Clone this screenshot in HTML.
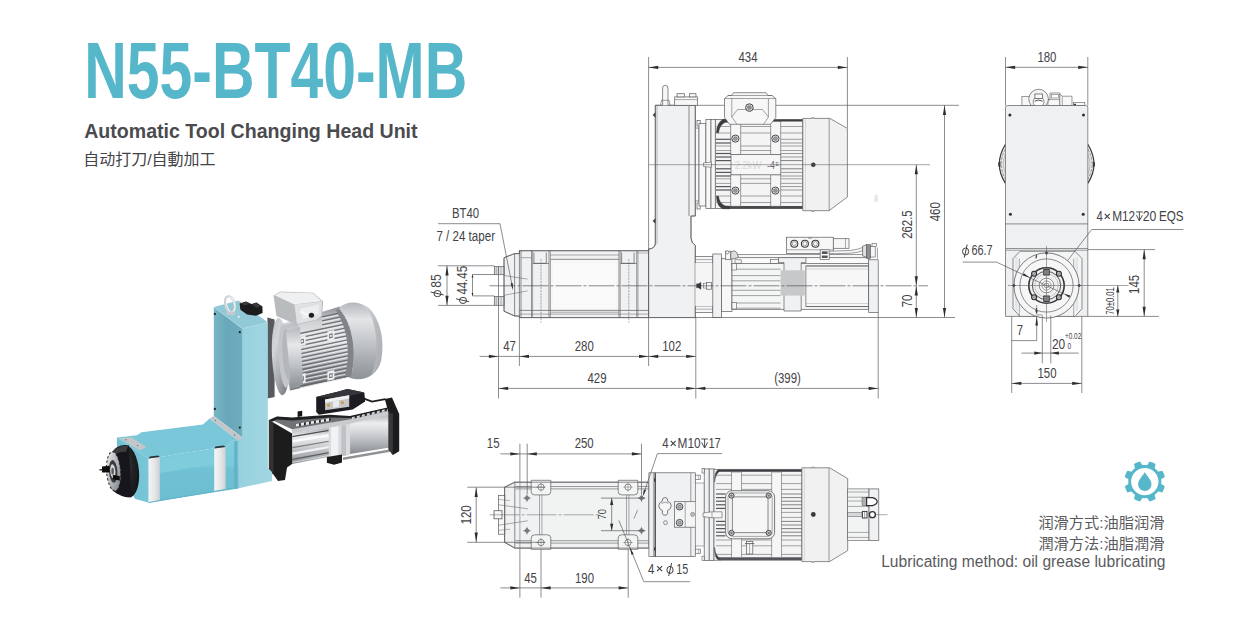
<!DOCTYPE html>
<html lang="en"><head><meta charset="utf-8"><title>N55-BT40-MB Automatic Tool Changing Head Unit</title><style>
html,body{margin:0;padding:0;background:#fff;}
body{width:1240px;height:617px;position:relative;overflow:hidden;font-family:"Liberation Sans",sans-serif;}
svg{position:absolute;left:0;top:0;}
svg text{font-family:"Liberation Sans",sans-serif;}
svg text.cjk{font-family:"Liberation Sans","Noto Sans CJK SC",sans-serif;}
</style></head>
<body>

<svg width="1240" height="617" viewBox="0 0 1240 617">
<text id="title" x="84.2" y="97.9" font-size="79.5" font-weight="700" fill="#55b7c9" textLength="383" lengthAdjust="spacingAndGlyphs">N55-BT40-MB</text>
<text id="sub" x="84.2" y="137.8" font-size="20" font-weight="700" fill="#4b4b4f" textLength="333.4" lengthAdjust="spacingAndGlyphs">Automatic Tool Changing Head Unit</text>
<text id="lub" x="881.2" y="566.6" font-size="15.6" fill="#5a5a5e" textLength="284.3" lengthAdjust="spacingAndGlyphs">Lubricating method: oil grease lubricating</text>
<defs>
<linearGradient id="gColR" x1="0" y1="0" x2="1" y2="0"><stop offset="0" stop-color="#97d1de"/><stop offset="1" stop-color="#a1d6e2"/></linearGradient>
<linearGradient id="gColL" x1="0" y1="0" x2="1" y2="0"><stop offset="0" stop-color="#78b6c6"/><stop offset="0.45" stop-color="#69a8ba"/><stop offset="1" stop-color="#6dacbd"/></linearGradient>
<linearGradient id="gBoxS" x1="0" y1="0" x2="0" y2="1"><stop offset="0" stop-color="#80cddd"/><stop offset="0.4" stop-color="#7ac9da"/><stop offset="0.46" stop-color="#70c1d3"/><stop offset="1" stop-color="#6bbdd0"/></linearGradient>
<linearGradient id="gBoxF" x1="0" y1="0" x2="1" y2="0"><stop offset="0" stop-color="#6fc0d2"/><stop offset="1" stop-color="#78c6d7"/></linearGradient>
<linearGradient id="gClamp" x1="0" y1="0" x2="1" y2="0"><stop offset="0" stop-color="#f4f5f6"/><stop offset="0.55" stop-color="#e4e6e8"/><stop offset="1" stop-color="#cfd2d5"/></linearGradient>
<linearGradient id="gMotor" x1="0" y1="0" x2="0" y2="1"><stop offset="0" stop-color="#8b8e92"/><stop offset="0.18" stop-color="#cfd1d4"/><stop offset="0.4" stop-color="#e6e8ea"/><stop offset="0.65" stop-color="#b4b7bb"/><stop offset="0.88" stop-color="#85888c"/><stop offset="1" stop-color="#6c6f73"/></linearGradient>
<linearGradient id="gMotorS" x1="0" y1="0" x2="0" y2="1"><stop offset="0" stop-color="#b5b8bc"/><stop offset="0.3" stop-color="#e6e8ea"/><stop offset="0.6" stop-color="#c4c7ca"/><stop offset="1" stop-color="#8d9094"/></linearGradient>
<linearGradient id="gFan" x1="0" y1="0" x2="0" y2="1"><stop offset="0" stop-color="#b4b7bb"/><stop offset="0.22" stop-color="#e3e5e7"/><stop offset="0.5" stop-color="#c5c8cb"/><stop offset="0.8" stop-color="#a2a5a9"/><stop offset="1" stop-color="#8f9296"/></linearGradient>
<linearGradient id="gFanFace" x1="0" y1="0" x2="1" y2="1"><stop offset="0" stop-color="#d6d8da"/><stop offset="0.5" stop-color="#b9bcbf"/><stop offset="1" stop-color="#a9acb0"/></linearGradient>
<linearGradient id="gFlange" x1="0" y1="0" x2="0.6" y2="1"><stop offset="0" stop-color="#b9bcc0"/><stop offset="0.35" stop-color="#d3d5d8"/><stop offset="0.7" stop-color="#a9acb0"/><stop offset="1" stop-color="#7f8286"/></linearGradient>
<linearGradient id="gTBox" x1="0" y1="0" x2="1" y2="1"><stop offset="0" stop-color="#e9ebec"/><stop offset="1" stop-color="#b7babd"/></linearGradient>
<linearGradient id="gCyl" x1="0" y1="0" x2="0" y2="1"><stop offset="0" stop-color="#a9acb0"/><stop offset="0.25" stop-color="#eceeef"/><stop offset="0.5" stop-color="#d0d2d5"/><stop offset="0.8" stop-color="#a7aaae"/><stop offset="1" stop-color="#85888c"/></linearGradient>
<linearGradient id="gRod" x1="0" y1="0" x2="0" y2="1"><stop offset="0" stop-color="#b8bbbe"/><stop offset="0.4" stop-color="#f3f4f5"/><stop offset="1" stop-color="#9da0a4"/></linearGradient>
<radialGradient id="gNose" cx="0.35" cy="0.35" r="0.8"><stop offset="0" stop-color="#4a4b4e"/><stop offset="0.5" stop-color="#232426"/><stop offset="1" stop-color="#101113"/></radialGradient>
<linearGradient id="gFace" x1="0" y1="0" x2="1" y2="1"><stop offset="0" stop-color="#f0f1f2"/><stop offset="0.5" stop-color="#b5b8bb"/><stop offset="1" stop-color="#7b7e82"/></linearGradient>
<filter id="pblur" x="-5%" y="-5%" width="110%" height="110%"><feGaussianBlur stdDeviation="0.45"/></filter>
</defs><g filter="url(#pblur)"><path d="M267.4 317.5L274.6 319.5L274.6 397L267.4 398.6Z" fill="#565a5f"/><ellipse cx="280.6" cy="356.6" rx="8.6" ry="38.6" fill="url(#gFlange)" transform="rotate(-3 280.6 356.6)"/><path d="M283 323.5L340 306.5L352.6 376L290 390.5Z" fill="url(#gMotor)"/><path d="M283 326L298 321.6L303 386L290 389.5Z" fill="url(#gMotorS)"/><path d="M322 316.8L351 310.7" stroke="#5e6165" stroke-width="1.35" opacity="0.85"/><path d="M322 318.5L351 312.4" stroke="#f0f1f2" stroke-width="1" opacity="0.85"/><path d="M322 320.8L351 314.8" stroke="#5e6165" stroke-width="1.35" opacity="0.85"/><path d="M322 322.6L351 316.4" stroke="#f0f1f2" stroke-width="1" opacity="0.85"/><path d="M322 324.9L351 318.8" stroke="#5e6165" stroke-width="1.35" opacity="0.85"/><path d="M322 326.6L351 320.5" stroke="#f0f1f2" stroke-width="1" opacity="0.85"/><path d="M300 333.5L351 322.8" stroke="#5e6165" stroke-width="1.35" opacity="0.85"/><path d="M300 335.2L351 324.5" stroke="#f0f1f2" stroke-width="1" opacity="0.85"/><path d="M300 337.6L351 326.9" stroke="#5e6165" stroke-width="1.35" opacity="0.85"/><path d="M300 339.3L351 328.6" stroke="#f0f1f2" stroke-width="1" opacity="0.85"/><path d="M300 341.6L351 330.9" stroke="#5e6165" stroke-width="1.35" opacity="0.85"/><path d="M300 343.3L351 332.6" stroke="#f0f1f2" stroke-width="1" opacity="0.85"/><path d="M300 345.7L351 335.0" stroke="#5e6165" stroke-width="1.35" opacity="0.85"/><path d="M300 347.4L351 336.7" stroke="#f0f1f2" stroke-width="1" opacity="0.85"/><path d="M300 349.8L351 339.1" stroke="#5e6165" stroke-width="1.35" opacity="0.85"/><path d="M300 351.4L351 340.8" stroke="#f0f1f2" stroke-width="1" opacity="0.85"/><path d="M300 353.8L351 343.1" stroke="#5e6165" stroke-width="1.35" opacity="0.85"/><path d="M300 355.5L351 344.8" stroke="#f0f1f2" stroke-width="1" opacity="0.85"/><path d="M300 357.8L351 347.1" stroke="#5e6165" stroke-width="1.35" opacity="0.85"/><path d="M300 359.5L351 348.8" stroke="#f0f1f2" stroke-width="1" opacity="0.85"/><path d="M300 361.9L351 351.2" stroke="#5e6165" stroke-width="1.35" opacity="0.85"/><path d="M300 363.6L351 352.9" stroke="#f0f1f2" stroke-width="1" opacity="0.85"/><path d="M300 365.9L351 355.2" stroke="#5e6165" stroke-width="1.35" opacity="0.85"/><path d="M300 367.6L351 356.9" stroke="#f0f1f2" stroke-width="1" opacity="0.85"/><path d="M300 370.0L351 359.3" stroke="#5e6165" stroke-width="1.35" opacity="0.85"/><path d="M300 371.7L351 361.0" stroke="#f0f1f2" stroke-width="1" opacity="0.85"/><path d="M300 374.0L351 363.3" stroke="#5e6165" stroke-width="1.35" opacity="0.85"/><path d="M300 375.7L351 365.0" stroke="#f0f1f2" stroke-width="1" opacity="0.85"/><path d="M300 378.1L351 367.4" stroke="#5e6165" stroke-width="1.35" opacity="0.85"/><path d="M300 379.8L351 369.1" stroke="#f0f1f2" stroke-width="1" opacity="0.85"/><path d="M300 382.1L351 371.4" stroke="#5e6165" stroke-width="1.35" opacity="0.85"/><path d="M300 383.8L351 373.1" stroke="#f0f1f2" stroke-width="1" opacity="0.85"/><path d="M300 386.2L351 375.5" stroke="#5e6165" stroke-width="1.35" opacity="0.85"/><path d="M300 387.9L351 377.2" stroke="#f0f1f2" stroke-width="1" opacity="0.85"/><path d="M298.6 337l7 -1.5l0 9.4l-7 1.5Z" fill="#eceeef"/><path d="M300.40000000000003 339.4l3.4 -0.7l0 4.4l-3.4 0.7Z" fill="#6a6d71"/><path d="M301.20000000000005 340.3l1.8 -0.4l0 2.2l-1.8 0.4Z" fill="#eceeef"/><path d="M327.4 331.6l7 -1.5l0 9.4l-7 1.5Z" fill="#eceeef"/><path d="M329.2 334.0l3.4 -0.7l0 4.4l-3.4 0.7Z" fill="#6a6d71"/><path d="M330.0 334.90000000000003l1.8 -0.4l0 2.2l-1.8 0.4Z" fill="#eceeef"/><path d="M298.6 374.6l7 -1.5l0 9.4l-7 1.5Z" fill="#eceeef"/><path d="M300.40000000000003 377.0l3.4 -0.7l0 4.4l-3.4 0.7Z" fill="#6a6d71"/><path d="M301.20000000000005 377.90000000000003l1.8 -0.4l0 2.2l-1.8 0.4Z" fill="#eceeef"/><path d="M327.4 371.4l7 -1.5l0 9.4l-7 1.5Z" fill="#eceeef"/><path d="M329.2 373.79999999999995l3.4 -0.7l0 4.4l-3.4 0.7Z" fill="#6a6d71"/><path d="M330.0 374.7l1.8 -0.4l0 2.2l-1.8 0.4Z" fill="#eceeef"/><ellipse cx="284.6" cy="355.8" rx="6" ry="32" fill="#c3c6c9" transform="rotate(-3 284.6 355.8)"/><ellipse cx="287.6" cy="355" rx="5" ry="26" fill="#b3b6ba" transform="rotate(-4 287.6 355)"/><path d="M286 331L300 327L303 384L291 387Z" fill="url(#gMotorS)"/><path d="M273.5 295.6L280.3 291.6L313.3 292.7L323.1 301.5L322.1 316.1L317.2 320L296.8 324.8L276.4 316.1Z" fill="#b9bcbf"/><path d="M274.6 295.2L280.6 292.2L313 293.2L321.6 301.2L294.4 304.6Z" fill="#eef0f1"/><path d="M294.4 304.6L322 301.8L321.2 315.8L316.8 319.4L297 324Z" fill="#dfe1e3"/><path d="M301 308.5L319 304.5L318.6 314L303 319.5Z" fill="#eceeef"/><path d="M300.4 310.6L309.6 314.2L308.8 316.6L299.8 313Z" fill="#f6f7f8"/><ellipse cx="311.4" cy="315.2" rx="2.7" ry="2.5" fill="#1f2023"/><path d="M338.6 308.3C346 301 358 300.6 368 307.6C380.6 317 385.4 343 381 361C377.4 375 364 382.4 350.4 378C357.6 357 353.6 324 338.6 308.3Z" fill="url(#gFan)"/><path d="M361 304.6C370 307 378.4 318 381.2 334C384 351 380.6 368 371 376C377 361 378 341 374 325C371.6 314.6 367 308 361 304.6Z" fill="url(#gFanFace)"/><path d="M338.6 308.3C353.6 324 357.6 357 350.4 378C348 377 346.6 376 345 374.2C351 355.4 347.4 327 336 311Z" fill="#808387"/><path d="M292 433.5L329 427.3L329 456.8L292 464Z" fill="url(#gCyl)"/><path d="M292.4 436.6L329 430.4" stroke="#4e5155" stroke-width="1.3"/><path d="M292.4 441.4L329 435.2" stroke="#fafbfb" stroke-width="2.4"/><path d="M292.4 447.6L329 441.2" stroke="#787b7f" stroke-width="1.1"/><path d="M292.4 453.6L329 447" stroke="#f3f4f5" stroke-width="2.2"/><path d="M292.4 459.4L329 452.6" stroke="#5c5f63" stroke-width="1.3"/><path d="M292.4 462.4L329 455.4" stroke="#d9dbdd" stroke-width="1"/><path d="M350 423.7L393 413L393 447L350 454Z" fill="url(#gCyl)"/><path d="M343 457.6L392 449L392 451.4L343 460Z" fill="#8e9195"/><path d="M328.7 425.5L350.1 421.8L350.1 455L328.7 458.6Z" fill="#d9dbde"/><path d="M331 427.4L338.4 426.2L338.4 456.4L331 457.6Z" fill="#f1f2f3"/><path d="M341.4 425.6L346 424.8L346 455.2L341.4 456Z" fill="#bfc2c5"/><path d="M292 429L329.6 422.6L350 419.4L392 409.6L392.6 414L350 423.8L329 427.4L292 433.6Z" fill="#c9cbce"/><path d="M271 419.6L277 416.8L292 418L329.6 415.4L350 416.4L392 406.8L392.4 410L350 419.6L329.6 422.8L292 429.2Z" fill="#6f7276"/><path d="M269 420L277 416.4L292 417.4L329.6 414.8L350 416L392 406.6L392.2 408.4L350 418L329.6 417.6L292 420.6L277 419.6L272 421.8Z" fill="#1f2022"/><path d="M296 424.0l3 -0.5l0 2.6l-3 0.5Z" fill="#e6e8ea"/><path d="M299 423.5l1.6 -0.3l0 2.6l-1.6 0.3Z" fill="#2a2b2e"/><path d="M301 423.1l3 -0.5l0 2.6l-3 0.5Z" fill="#e6e8ea"/><path d="M304 422.6l1.6 -0.3l0 2.6l-1.6 0.3Z" fill="#2a2b2e"/><path d="M306 422.3l3 -0.5l0 2.6l-3 0.5Z" fill="#e6e8ea"/><path d="M309 421.8l1.6 -0.3l0 2.6l-1.6 0.3Z" fill="#2a2b2e"/><path d="M311 421.4l3 -0.5l0 2.6l-3 0.5Z" fill="#e6e8ea"/><path d="M314 420.9l1.6 -0.3l0 2.6l-1.6 0.3Z" fill="#2a2b2e"/><path d="M316 420.6l3 -0.5l0 2.6l-3 0.5Z" fill="#e6e8ea"/><path d="M319 420.1l1.6 -0.3l0 2.6l-1.6 0.3Z" fill="#2a2b2e"/><path d="M321 419.7l3 -0.5l0 2.6l-3 0.5Z" fill="#e6e8ea"/><path d="M324 419.2l1.6 -0.3l0 2.6l-1.6 0.3Z" fill="#2a2b2e"/><path d="M326 418.8l3 -0.5l0 2.6l-3 0.5Z" fill="#e6e8ea"/><path d="M329 418.3l1.6 -0.3l0 2.6l-1.6 0.3Z" fill="#2a2b2e"/><path d="M352 417.2l2.8 -0.7l0 2l-2.8 0.7Z" fill="#d5d7d9"/><path d="M354.8 416.5l1.6 -0.4l0 2l-1.6 0.4Z" fill="#2a2b2e"/><path d="M357 416.0l2.8 -0.7l0 2l-2.8 0.7Z" fill="#d5d7d9"/><path d="M359.8 415.3l1.6 -0.4l0 2l-1.6 0.4Z" fill="#2a2b2e"/><path d="M362 414.8l2.8 -0.7l0 2l-2.8 0.7Z" fill="#d5d7d9"/><path d="M364.8 414.1l1.6 -0.4l0 2l-1.6 0.4Z" fill="#2a2b2e"/><path d="M367 413.6l2.8 -0.7l0 2l-2.8 0.7Z" fill="#d5d7d9"/><path d="M369.8 412.9l1.6 -0.4l0 2l-1.6 0.4Z" fill="#2a2b2e"/><path d="M372 412.4l2.8 -0.7l0 2l-2.8 0.7Z" fill="#d5d7d9"/><path d="M374.8 411.7l1.6 -0.4l0 2l-1.6 0.4Z" fill="#2a2b2e"/><path d="M377 411.2l2.8 -0.7l0 2l-2.8 0.7Z" fill="#d5d7d9"/><path d="M379.8 410.5l1.6 -0.4l0 2l-1.6 0.4Z" fill="#2a2b2e"/><path d="M382 410.0l2.8 -0.7l0 2l-2.8 0.7Z" fill="#d5d7d9"/><path d="M384.8 409.3l1.6 -0.4l0 2l-1.6 0.4Z" fill="#2a2b2e"/><path d="M387 408.8l2.8 -0.7l0 2l-2.8 0.7Z" fill="#d5d7d9"/><path d="M389.8 408.1l1.6 -0.4l0 2l-1.6 0.4Z" fill="#2a2b2e"/><path d="M297.6 411.6l4.6 -0.8l0 5.4l-4.6 0.8Z" fill="#18191b"/><path d="M268.9 420.1L292.1 433.5L292.1 464L287 467.5L285 480L278 481L273.4 474.5L268.9 470Z" fill="#1a1b1d"/><path d="M268.9 420.1L273.6 422.8L273.6 474.6L268.9 470Z" fill="#303134"/><path d="M326.9 456.9L342 454.4L342 462.4L334 464.8L326.9 462.8Z" fill="#1a1b1d"/><path d="M384.8 399L392 397.6L399.2 413.9L399.2 451.3L392.9 455L388.6 449.6L388.6 413Z" fill="#1c1d1f"/><path d="M388.6 413L392.9 413.6L392.9 455L388.6 449.6Z" fill="#37383b"/><path d="M364 398.6L372 401.6L385.4 399.2" fill="none" stroke="#1c1d1f" stroke-width="1.7"/><path d="M316.2 396.9L338.5 391.6L347.4 388.9L364.3 392.5L365.2 401.4L352.7 409.4L318.9 414.8L316.2 412.1Z" fill="#1d1e20"/><path d="M316.2 396.9L338.5 391.6L347.4 388.9L364.3 392.5L341 398Z" fill="#34353a"/><path d="M325.1 399.6L349.2 395.2L349.2 406.8L325.1 410.3Z" fill="#c5c7ca"/><path d="M325.1 399.6L349.2 395.2L349.2 398.4L325.1 402.8Z" fill="#f0f1f2"/><circle cx="328.6" cy="405.2" r="1.6" fill="#c8a048"/><circle cx="342.4" cy="402.6" r="1.6" fill="#c8a048"/><path d="M333 401.4l6 -1l0 6.4l-6 1Z" fill="#e9eaeb"/><path d="M242.4 328.6L267.7 322.4L267.9 468L272 472L272 481L237.4 488.6L237.4 437.6L242.4 437.6Z" fill="url(#gColR)"/><path d="M213.8 307L242.4 328.6L242.4 437.6L213.8 416Z" fill="url(#gColL)"/><path d="M213.8 307L238.6 300.4L267.7 322.4L242.4 328.6Z" fill="#92c9d6"/><path d="M213.8 307L242.4 328.6L267.7 322.4" fill="none" stroke="#a9d9e4" stroke-width="0.8"/><path d="M242.4 329L242.4 437" fill="none" stroke="#8fcad8" stroke-width="0.7"/><ellipse cx="230" cy="304.5" rx="4.6" ry="8.2" fill="none" stroke="#cdd0d3" stroke-width="2.6" transform="rotate(-14 230 304.5)"/><ellipse cx="230.6" cy="304.5" rx="4" ry="7.6" fill="none" stroke="#f5f6f7" stroke-width="1" transform="rotate(-14 230.6 304.5)"/><ellipse cx="230.8" cy="313.2" rx="4.2" ry="2" fill="#c6c9cc"/><path d="M239.6 303.5L246 301.4L251.5 304L256.5 302.4L262.4 306.6L262.6 313L256 315.8L247 314.6L240.4 309.8Z" fill="#1c1d1f"/><path d="M241 303.4L245.8 301.8L250 303.6L245 305.4Z" fill="#3a3b3e"/><path d="M252 304.4L256.4 303L261 306.2L256.6 307.8Z" fill="#3a3b3e"/><circle cx="214.9" cy="314" r="1.15" fill="#1d2a30"/><circle cx="239.8" cy="332.2" r="1.15" fill="#1d2a30"/><circle cx="214.9" cy="409" r="1.15" fill="#1d2a30"/><circle cx="239.8" cy="427.6" r="1.15" fill="#1d2a30"/><circle cx="238.7" cy="316.8" r="1" fill="#f4f6f7"/><path d="M116.9 437.4L137 435.2L141.5 432.2L203 424.6L209.6 418.6L238.2 440.4L231 441L226 447.6L214.5 448.2L160 457L148 458.2Z" fill="#79c7d8"/><path d="M119.2 438.2L131.6 437.2L146.4 447L139.6 450.6Z" fill="#c4c7c9"/><path d="M209.6 418.6L213.8 416L242.4 437.6L238.2 440.4Z" fill="#c3c6c9"/><circle cx="126" cy="439.8" r="0.7" fill="#5f6a70"/><circle cx="137.6" cy="445.6" r="0.7" fill="#5f6a70"/><circle cx="215.4" cy="420.6" r="0.7" fill="#5f6a70"/><circle cx="234.6" cy="435" r="0.7" fill="#5f6a70"/><path d="M148 458.2L160 457L214.5 448.2L226 447.6L231 441L238.4 440.2L238.4 488.4L148.4 502.6Z" fill="url(#gBoxS)"/><path d="M160 459.5L214 450.6L214 464L160 473Z" fill="#7fccdc"/><path d="M116.9 437.4L148 458.2L148.4 502.6L135.2 499L117.4 470Z" fill="url(#gBoxF)"/><path d="M148.4 458.6L159.8 457L159.8 500.2L148.6 502.2Z" fill="url(#gClamp)"/><path d="M214.2 448.4L225.6 447L225.6 489.6L214.2 491.6Z" fill="url(#gClamp)"/><path d="M150 456.6L158 455.4L159.8 457L148.4 458.6Z" fill="#2a3338"/><path d="M215.6 446.6L223.6 445.6L225.6 447L214.2 448.4Z" fill="#2a3338"/><path d="M234.2 441L237.4 440.6L237.4 488.4L234.2 489Z" fill="#62b3c6"/><path d="M148.4 502.6L236.8 487.6" stroke="#5fb4c7" stroke-width="1" fill="none"/><ellipse cx="127.4" cy="471.4" rx="11.6" ry="26" fill="url(#gNose)" transform="rotate(-5 127.4 471.4)"/><path d="M111.4 453.4C115 446.4 123 443.8 129 445.6L131.4 497.2C124 498 115.6 494 111.6 489Z" fill="#17181a"/><path d="M114 450.6C118 446.6 124 445.2 128 446L126 452C122 451.4 118 452.4 115 455Z" fill="#3d3e41"/><ellipse cx="113.6" cy="471.4" rx="7" ry="19.6" fill="url(#gFace)" transform="rotate(-4 113.6 471.4)"/><ellipse cx="113.6" cy="471.4" rx="7" ry="19.6" fill="none" stroke="#2a2b2d" stroke-width="1" transform="rotate(-4 113.6 471.4)" stroke-dasharray="2.4 2"/><ellipse cx="113.2" cy="471.4" rx="4.2" ry="11.4" fill="#3a3b3e" transform="rotate(-4 113.2 471.4)"/><ellipse cx="112.8" cy="471.2" rx="2.6" ry="7" fill="#d4d6d8" transform="rotate(-4 112.8 471.2)"/><ellipse cx="112.6" cy="471.2" rx="1.3" ry="3.4" fill="#5a5c5f"/><path d="M102 466.4L109.6 465.8L109.6 472.4L102 472.6Z" fill="#0e0f10"/><path d="M99.4 469.2L102.4 469L102.4 470.4L99.4 470.4Z" fill="#2c2d30"/><path d="M112.9 474.8L119.8 476.2L119.8 480.6L112.9 479.4Z" fill="#0e0f10"/></g>
<g fill="none" stroke="#5c5c60" stroke-width="0.7" stroke-linecap="butt" stroke-linejoin="miter"><path d="M504 257.7L514.6 253.6L519.4 253.6L519.4 250.7L648.6 250.7L648.6 317.6L519.4 317.6L519.4 316L514.6 316L504 311.2Z" fill="#f0f1f2"/><path d="M655.3 105.3L695.3 105.3L695.3 216L691 216L691 238Q691.3 243 695.3 245.5L695.3 317.6L648.6 317.6L648.6 250.7L648.6 249Q654.6 248.6 655.3 244Z" fill="#f0f1f2"/><rect x="550.5" y="259.3" width="68.5" height="52.7" fill="#f6f6f7" stroke-width="0"/><rect x="553" y="263" width="63" height="45" fill="#fafafa" stroke-width="0"/><path d="M514.6 253.6L514.6 316"/><path d="M519.4 250.7L519.4 317.6"/><path d="M521 250.7L521 317.6"/><path d="M531.6 250.7L531.6 317.6"/><path d="M532.6 250.7L532.6 317.6" stroke-width="0.5"/><path d="M549 250.7L549 317.6"/><path d="M550.5 250.7L550.5 317.6" stroke-width="0.5"/><path d="M619 250.7L619 317.6"/><path d="M620.3 250.7L620.3 317.6" stroke-width="0.5"/><path d="M636.8 250.7L636.8 317.6"/><path d="M638 250.7L638 317.6" stroke-width="0.5"/><path d="M533.9 252.5L533.9 263.4L546.3 263.4L546.3 252.5" fill="none"/><path d="M532.6 263.4L549 263.4"/><path d="M541 259L541 322.5" stroke-width="0.5" stroke-dasharray="2.2 0.9"/><path d="M621.5999999999999 252.5L621.5999999999999 263.4L634.0999999999999 263.4L634.0999999999999 252.5" fill="none"/><path d="M620.3 263.4L636.8 263.4"/><path d="M628.8 259L628.8 322.5" stroke-width="0.5" stroke-dasharray="2.2 0.9"/><path d="M550.5 259.3L619 259.3"/><path d="M521 257.7L531.6 257.7" stroke-width="0.5"/><path d="M519.4 310.4L648.6 310.4"/><path d="M519.4 314.1L648.6 314.1" stroke-width="0.5"/><path d="M550.5 312.2L619 312.2" stroke-width="0.5"/><path d="M550.5 255L619 255" stroke-width="0.5"/><path d="M636.8 253L648.6 253" stroke-width="0.4"/><rect x="494.3" y="266.6" width="9.7" height="8.1" fill="#e4e5e6"/><path d="M496.2 266.6L496.2 274.7" stroke-width="0.5"/><path d="M498.4 266.6L498.4 274.7" stroke-width="0.5"/><path d="M501 266.6L501 274.7" stroke-width="0.4"/><rect x="494.3" y="296.6" width="9.7" height="8.7" fill="#e4e5e6"/><path d="M496.2 296.6L496.2 305.3" stroke-width="0.5"/><path d="M498.4 296.6L498.4 305.3" stroke-width="0.5"/><path d="M501 296.6L501 305.3" stroke-width="0.4"/><path d="M504 275.5L527.5 279.1" stroke-width="0.5"/><path d="M504 295.3L527.5 290.9" stroke-width="0.5"/><path d="M504 257.7L514.6 253.6L519.4 253.6L519.4 250.7L648.6 250.7M648.6 317.6L519.4 317.6L519.4 316L514.6 316L504 311.2L504 257.7" fill="none"/><path d="M655.3 105.3L655.3 244Q654.6 248.6 648.6 249L648.6 317.6M695.3 245.5L695.3 317.6M689 105.3L689 216M695.3 105.3L695.3 216L691 216L691 238Q691.3 243 695.3 245.5" fill="none"/><path d="M655.3 105.3L959 105.3"/><path d="M657 105.3L657 244" stroke-width="0.4"/><path d="M655.3 112.4l-2.5 2.5l2.5 2.5ZM655.3 218.4l-2.5 2.5l2.5 2.5Z" fill="#3a3a3d" stroke-width="0.3"/><path d="M662.6 105.3L662.6 88Q662.6 85.3 665.3 85.3Q668 85.3 668 88L668 105.3" fill="#f7f7f8"/><path d="M660.5 105.3l1-5l7.6 0l1 5" fill="none" stroke-width="0.6"/><rect x="674.7" y="96.9" width="22.7" height="8.4" fill="#f7f7f8"/><rect x="677" y="93.7" width="7.6" height="3.2" fill="#f7f7f8"/><rect x="689.4" y="93.7" width="6.6" height="3.2" fill="#f7f7f8"/><path d="M674.7 99.6L697.4 99.6" stroke-width="0.5"/><rect x="695.3" y="128" width="3.7" height="73" fill="#f7f7f8"/><rect x="697" y="120.5" width="3.2" height="5.5" fill="#f7f7f8"/><rect x="697" y="203" width="3.2" height="6" fill="#f7f7f8"/><rect x="699" y="123.5" width="6.9" height="82.5" fill="#f7f7f8"/><rect x="705.9" y="119.6" width="5.1" height="89" fill="#f7f7f8"/><rect x="711" y="119.6" width="4.3" height="89" fill="#f7f7f8"/><rect x="715.3" y="119.6" width="87.5" height="89" fill="#f4f4f5"/><path d="M722 120.6L802.8 120.6" fill="none" stroke-width="2" stroke="#3c3c40"/><path d="M722 207.4L802.8 207.4" fill="none" stroke-width="2.6" stroke="#4a4a4e"/><path d="M716.2 133Q716.6 122.4 723 119.19999999999999L730 119.19999999999999L730 122.19999999999999L725 122.39999999999999Q719.4 125 718.6 133Z" fill="#3c3c40" stroke-width="0.3"/><path d="M716.2 196Q716.6 206.6 723 209.0L730 209.0L730 206.0L725 205.79999999999998Q719.4 203.4 718.6 196Z" fill="#3c3c40" stroke-width="0.3"/><path d="M716 126.5L802.8 126.5" stroke-width="0.55"/><path d="M716 133L802.8 133" stroke-width="0.55"/><path d="M716 146L802.8 146" stroke-width="0.55"/><path d="M716 150.5L802.8 150.5" stroke-width="0.55"/><path d="M716 178.8L802.8 178.8" stroke-width="0.55"/><path d="M716 183.4L802.8 183.4" stroke-width="0.55"/><path d="M716 196L802.8 196" stroke-width="0.55"/><path d="M716 202.5L802.8 202.5" stroke-width="0.55"/><path d="M716 139.3L731 139.3" stroke-width="1.2" stroke="#55555a"/><path d="M781 139.3L802.8 139.3" stroke-width="0.6"/><path d="M716 143L731 143" stroke-width="1.2" stroke="#55555a"/><path d="M781 143L802.8 143" stroke-width="0.6"/><path d="M716 153.5L731 153.5" stroke-width="1.2" stroke="#55555a"/><path d="M781 153.5L802.8 153.5" stroke-width="0.6"/><path d="M716 157L731 157" stroke-width="1.2" stroke="#55555a"/><path d="M781 157L802.8 157" stroke-width="0.6"/><path d="M716 172.4L731 172.4" stroke-width="1.2" stroke="#55555a"/><path d="M781 172.4L802.8 172.4" stroke-width="0.6"/><path d="M716 176L731 176" stroke-width="1.2" stroke="#55555a"/><path d="M781 176L802.8 176" stroke-width="0.6"/><path d="M716 186.6L731 186.6" stroke-width="1.2" stroke="#55555a"/><path d="M781 186.6L802.8 186.6" stroke-width="0.6"/><path d="M716 190L731 190" stroke-width="1.2" stroke="#55555a"/><path d="M781 190L802.8 190" stroke-width="0.6"/><path d="M716 160.6L731 160.6" stroke-width="1.2" stroke="#55555a"/><path d="M781 160.6L802.8 160.6" stroke-width="1" stroke="#808084"/><path d="M716 168.8L731 168.8" stroke-width="1.2" stroke="#55555a"/><path d="M781 168.8L802.8 168.8" stroke-width="1" stroke="#808084"/><rect x="730.8" y="121.6" width="10" height="32.9" fill="#f6f6f7" stroke-width="0.6"/><rect x="730.8" y="174.8" width="10" height="31.4" fill="#f6f6f7" stroke-width="0.6"/><circle cx="735.4" cy="138.6" r="3.6" fill="#e2e3e4" stroke-width="0.9" stroke="#3a3a3d"/><circle cx="735.4" cy="138.6" r="1.9" fill="#9b9c9f" stroke-width="0.5"/><circle cx="735.4" cy="190.6" r="3.6" fill="#e2e3e4" stroke-width="0.9" stroke="#3a3a3d"/><circle cx="735.4" cy="190.6" r="1.9" fill="#9b9c9f" stroke-width="0.5"/><rect x="770.8" y="121.6" width="10" height="32.9" fill="#f6f6f7" stroke-width="0.6"/><rect x="770.8" y="174.8" width="10" height="31.4" fill="#f6f6f7" stroke-width="0.6"/><circle cx="775.4" cy="138.6" r="3.6" fill="#e2e3e4" stroke-width="0.9" stroke="#3a3a3d"/><circle cx="775.4" cy="138.6" r="1.9" fill="#9b9c9f" stroke-width="0.5"/><circle cx="775.4" cy="190.6" r="3.6" fill="#e2e3e4" stroke-width="0.9" stroke="#3a3a3d"/><circle cx="775.4" cy="190.6" r="1.9" fill="#9b9c9f" stroke-width="0.5"/><rect x="731" y="154.5" width="49.8" height="20.3" fill="#f6f6f6"/><text transform="translate(748 168.6) scale(0.9 1)" font-size="10.5" text-anchor="middle" fill="#d9dadb" stroke="none">2.2kW</text><text transform="translate(771 169.4) scale(0.8 1)" font-size="11" text-anchor="middle" fill="#6b6b6f" stroke="none">-4</text><text transform="translate(777.2 165.5) scale(0.9 1)" font-size="6" text-anchor="middle" fill="#6b6b6f" stroke="none">E</text><path d="M703.5 162.89999999999998L711.5 162.1L711.5 167.29999999999998L703.5 166.5Z" fill="#f7f7f8" stroke-width="0.6"/><path d="M724.5 98.5L728 95.5L731.5 95.5L733.5 92.7L766 92.7L768 95.5L772 95.5L775.8 98.5L775.8 117.5L770.5 124.3L729.5 124.3L724.5 117.5Z" fill="#f7f7f8"/><path d="M724.5 98.5L775.8 98.5M728 95.5L772 95.5M731.8 98.5L731.8 117L737 124.3M768.4 98.5L768.4 117L763.5 124.3M731.8 117L737.5 109.5L762.5 109.5L768.4 117" fill="none" stroke-width="0.55"/><circle cx="749.4" cy="107.6" r="3.8" fill="#d9dadc" stroke-width="0.9" stroke="#3a3a3d"/><circle cx="749.4" cy="107.6" r="2" fill="#8f9093" stroke-width="0.4"/><path d="M802.8 118.4L830 118.4L847.4 128.5L847.4 197L829 210.7L802.8 210.7Z" fill="#f1f1f2"/><path d="M829.2 118.4L829.2 210.7" stroke-width="0.6"/><path d="M811 118.4Q813 116.6 815 118.4M811 210.7Q813 212.6 815 210.7" fill="#f7f7f8" stroke-width="0.6"/><circle cx="813.3" cy="164.7" r="2.3" fill="#3a3a3d" stroke-width="0"/><path d="M805.5 118.4L805.5 210.7" stroke-width="0.4" stroke="#b5b5b8"/><rect x="695.3" y="256.5" width="17.5" height="6.5" fill="#f7f7f8"/><rect x="695.3" y="306" width="17.5" height="6.5" fill="#f7f7f8"/><rect x="695.3" y="263" width="17.5" height="43" fill="#f5f5f6" stroke-width="0"/><path d="M695.3 259.6L712.8 259.6" stroke-width="0.5"/><path d="M695.3 309.2L712.8 309.2" stroke-width="0.5"/><rect x="712.8" y="254" width="8.8" height="63.5" fill="#f0f1f2"/><rect x="721.6" y="258.7" width="10.4" height="52.7" fill="#f7f7f8"/><path d="M696.5 283.8l2 0l2.5 -1.6l0 7.2l-2.5 -1.6l-2 0Z" fill="#2e2e31" stroke-width="0.4"/><rect x="706.5" y="282.4" width="5" height="6.8" fill="#f7f7f8"/><rect x="703.6" y="283.6" width="2.9" height="4.4" fill="#f7f7f8" stroke-width="0.5"/><rect x="732" y="263.3" width="136.7" height="46" fill="#f4f5f5"/><rect x="805.9" y="266" width="62.8" height="40.5" fill="#f7f7f8"/><path d="M732 269.2L780.6 269.2" stroke-width="0.55"/><path d="M732 275.6L780.6 275.6" stroke-width="0.55"/><path d="M732 280.8L780.6 280.8" stroke-width="0.55"/><path d="M732 290.3L780.6 290.3" stroke-width="0.55"/><path d="M732 295.6L780.6 295.6" stroke-width="0.55"/><path d="M732 303L780.6 303" stroke-width="0.55"/><path d="M732 308.2L780.6 308.2" stroke-width="0.55"/><path d="M805.9 266L868.7 266" stroke-width="0.6"/><path d="M805.9 306.5L868.7 306.5" stroke-width="0.6"/><path d="M805.9 269L868.7 269" stroke-width="0.4" stroke="#a0a0a4"/><path d="M805.9 303.5L868.7 303.5" stroke-width="0.4" stroke="#a0a0a4"/><rect x="732" y="254.4" width="136.7" height="3.4" fill="#f7f7f8" stroke-width="0.6"/><rect x="732" y="257.8" width="136.7" height="5.5" fill="#fafafa" stroke-width="0.5"/><rect x="732" y="302.6" width="4.5" height="6.4" fill="#f7f7f8" stroke-width="0.6"/><rect x="732" y="263.5" width="4.5" height="6.5" fill="#f7f7f8" stroke-width="0.6"/><rect x="770.6" y="259.5" width="7.9" height="3.8" fill="#f7f7f8" stroke-width="0.6"/><path d="M778.5 257.6L805.9 257.6L805.9 262.6L801.2 262.6L801.2 311L784 311L784 262.6L778.5 262.6Z" fill="#f0f1f2"/><rect x="780.6" y="270.3" width="24.2" height="25.3" fill="#c7c8ca" stroke-width="0"/><rect x="868.7" y="259.8" width="9.5" height="52.6" fill="#f0f1f2"/><rect x="786.4" y="237.2" width="46.9" height="16.4" fill="#f7f7f8"/><path d="M786.4 249.8L833.3 249.8" stroke-width="0.5"/><rect x="833.3" y="238.7" width="15.7" height="9.6" fill="#f7f7f8"/><path d="M845.5 238.7L845.5 248.3" stroke-width="0.5"/><circle cx="794.3" cy="243.7" r="3.5" fill="#fff" stroke-width="1.1" stroke="#3a3a3d"/><circle cx="794.3" cy="243.7" r="2" fill="none" stroke-width="0.6"/><circle cx="804.9" cy="243.7" r="3.5" fill="#fff" stroke-width="1.1" stroke="#3a3a3d"/><circle cx="804.9" cy="243.7" r="2" fill="none" stroke-width="0.6"/><circle cx="815.4" cy="243.7" r="3.5" fill="#fff" stroke-width="1.1" stroke="#3a3a3d"/><circle cx="815.4" cy="243.7" r="2" fill="none" stroke-width="0.6"/><path d="M808.5 238.5q1.5 -1.6 3 0" fill="none" stroke-width="0.8"/><rect x="820.2" y="249.8" width="9" height="9.6" fill="#fff" stroke-width="0.7"/><rect x="821.8" y="251.3" width="5.8" height="2.7" fill="#55555a" stroke-width="0"/><rect x="821.8" y="255.5" width="5.8" height="2.5" fill="#55555a" stroke-width="0"/><path d="M829.2 251.3L851 250.3Q858 249.6 862.6 247.4L862.6 250.8Q858 252.6 851 253.2L829.2 253.8Z" fill="#f7f7f8" stroke-width="0.6"/><path d="M862.6 246.2l4 -1.6l0 12.8l-4 -1.6Z" fill="#dfe0e1" stroke-width="0.7"/><rect x="866.6" y="244.6" width="4" height="14" fill="#8d8e91" stroke-width="0.6"/><rect x="870.6" y="246.6" width="4.6" height="10.4" fill="#f7f7f8" stroke-width="0.6"/><rect x="872" y="243.4" width="4.6" height="3.2" fill="#f7f7f8" stroke-width="0.6"/><path d="M877.4 247.5L877.4 258.7" stroke-width="0.6"/><rect x="725.4" y="251.2" width="5.4" height="8.4" fill="#f7f7f8" stroke-width="0.7"/><circle cx="727.2" cy="252.4" r="1.6" fill="#f7f7f8" stroke-width="0.6"/><path d="M730.8 252l3.6 -1.2l2.2 1.4l1.8 4.6l-2 1.4l-5.6 1Z" fill="#dcdddf" stroke-width="0.7"/><rect x="735" y="259.8" width="6.2" height="3.4" fill="#f7f7f8" stroke-width="0.6"/><path d="M874.6 195.4q1.6 -1.6 3 0l0.6 6.4l-4 0Z" fill="#e6e7e9" stroke-width="0"/><path d="M489.5 285.8L928 285.8" stroke-width="0.65" stroke="#4a4a4e" stroke-dasharray="26 2 3 2"/><path d="M649 164.7L930 164.7" stroke-width="0.55"/><path d="M648.6 317.5L955 317.5"/><path d="M648.6 57L648.6 250.7"/><path d="M847.4 57L847.4 128"/><path d="M648.6 67.4L847.4 67.4"/><path d="M648.6 67.4L658.2 65.8L658.2 69Z" fill="#2e2e31" stroke="none"/><path d="M847.4 67.4L837.8 69L837.8 65.8Z" fill="#2e2e31" stroke="none"/><text transform="translate(748 61.8) scale(0.815 1)" font-size="14" text-anchor="middle" fill="#434347" stroke="none">434</text><path d="M498.5 266L498.5 398.5"/><path d="M519.4 317.6L519.4 366"/><path d="M648.6 317.6L648.6 366"/><path d="M695.8 317.6L695.8 398.5"/><path d="M479.6 356.4L695.8 356.4"/><path d="M498.5 356.4L488.9 358L488.9 354.8Z" fill="#2e2e31" stroke="none"/><path d="M519.4 356.4L529 354.8L529 358Z" fill="#2e2e31" stroke="none"/><path d="M648.6 356.4L639 358L639 354.8Z" fill="#2e2e31" stroke="none"/><path d="M648.6 356.4L658.2 354.8L658.2 358Z" fill="#2e2e31" stroke="none"/><path d="M695.8 356.4L686.2 358L686.2 354.8Z" fill="#2e2e31" stroke="none"/><text transform="translate(509.5 351) scale(0.815 1)" font-size="14" text-anchor="middle" fill="#434347" stroke="none">47</text><text transform="translate(584.3 351) scale(0.815 1)" font-size="14" text-anchor="middle" fill="#434347" stroke="none">280</text><text transform="translate(671.8 351) scale(0.815 1)" font-size="14" text-anchor="middle" fill="#434347" stroke="none">102</text><path d="M878.2 312L878.2 398.5"/><path d="M498.5 388.4L695.8 388.4"/><path d="M498.5 388.4L508.1 386.8L508.1 390Z" fill="#2e2e31" stroke="none"/><path d="M695.8 388.4L686.2 390L686.2 386.8Z" fill="#2e2e31" stroke="none"/><path d="M695.8 388.4L878.2 388.4"/><path d="M695.8 388.4L705.4 386.8L705.4 390Z" fill="#2e2e31" stroke="none"/><path d="M878.2 388.4L868.6 390L868.6 386.8Z" fill="#2e2e31" stroke="none"/><text transform="translate(597 383) scale(0.815 1)" font-size="14" text-anchor="middle" fill="#434347" stroke="none">429</text><text transform="translate(787.5 383) scale(0.815 1)" font-size="14" text-anchor="middle" fill="#434347" stroke="none">(399)</text><path d="M916.3 164.7L916.3 317.5"/><path d="M916.3 164.7L917.9 174.3L914.7 174.3Z" fill="#2e2e31" stroke="none"/><path d="M916.3 285.8L914.7 276.2L917.9 276.2Z" fill="#2e2e31" stroke="none"/><path d="M916.3 285.8L917.9 295.4L914.7 295.4Z" fill="#2e2e31" stroke="none"/><path d="M916.3 317.5L914.7 307.9L917.9 307.9Z" fill="#2e2e31" stroke="none"/><path d="M944.5 105.3L944.5 317.5"/><path d="M944.5 105.3L946.1 114.9L942.9 114.9Z" fill="#2e2e31" stroke="none"/><path d="M944.5 317.5L942.9 307.9L946.1 307.9Z" fill="#2e2e31" stroke="none"/><text transform="translate(911.6 224.6) rotate(-90) scale(0.815 1)" font-size="14" text-anchor="middle" fill="#434347" stroke="none">262.5</text><text transform="translate(939.8 211.7) rotate(-90) scale(0.815 1)" font-size="14" text-anchor="middle" fill="#434347" stroke="none">460</text><text transform="translate(911.6 301) rotate(-90) scale(0.815 1)" font-size="14" text-anchor="middle" fill="#434347" stroke="none">70</text><path d="M438 265.8L494.3 265.8"/><path d="M438 305.4L494.3 305.4"/><path d="M447 265.8L447 305.4"/><path d="M447 265.8L448.6 275.4L445.4 275.4Z" fill="#2e2e31" stroke="none"/><path d="M447 305.4L445.4 295.8L448.6 295.8Z" fill="#2e2e31" stroke="none"/><path d="M472.5 274.5L494.3 274.5"/><path d="M472.5 295.9L494.3 295.9"/><path d="M472.5 274.5L472.5 295.9"/><path d="M472.5 274.5L473.4 277.5L471.6 277.5Z" fill="#2e2e31" stroke="none"/><path d="M472.5 295.9L471.6 292.9L473.4 292.9Z" fill="#2e2e31" stroke="none"/><g transform="translate(441.2 297.2) rotate(-90)"><ellipse cx="3.6" cy="-3.7" rx="3.1" ry="3.5" fill="none" stroke="#37373a" stroke-width="0.95"/><path d="M5.2 -10.6L2.3 2.4" stroke="#37373a" stroke-width="0.95" fill="none"/><text x="9.4" y="0" font-size="14" fill="#434347" stroke="none" textLength="13.6" lengthAdjust="spacingAndGlyphs">85</text></g><g transform="translate(466.7 304) rotate(-90)"><ellipse cx="3.6" cy="-3.7" rx="3.1" ry="3.5" fill="none" stroke="#37373a" stroke-width="0.95"/><path d="M5.2 -10.6L2.3 2.4" stroke="#37373a" stroke-width="0.95" fill="none"/><text x="9.4" y="0" font-size="14" fill="#434347" stroke="none" textLength="28.6" lengthAdjust="spacingAndGlyphs">44.45</text></g><text transform="translate(465.5 217.8) scale(0.815 1)" font-size="14" text-anchor="middle" fill="#434347" stroke="none">BT40</text><text transform="translate(436.4 240.6)" font-size="14" text-anchor="start" fill="#434347" stroke="none" textLength="58.6" lengthAdjust="spacingAndGlyphs">7 / 24&#160;taper</text><path d="M438 223.7L500 223.7L512.6 288" fill="none"/><path d="M513 290.2L510.6 283.5L512.7 283.1Z" fill="#2e2e31" stroke="none"/><path d="M1005.5 144.2Q993.1 164 1005.5 183.4" fill="#e9eaeb" stroke-width="1.2" stroke="#3a3a3d"/><path d="M1005.5 149Q996.9 164 1005.5 179" fill="none" stroke-width="0.7" stroke="#6a6a6e" stroke-dasharray="3 1.2"/><path d="M1005.5 154Q1001.1 164 1005.5 174" fill="none" stroke-width="0.5" stroke="#8a8a8e"/><rect x="998.3" y="162.2" width="2.2" height="4.2" fill="#38383b" stroke-width="0"/><path d="M1087.8 144.2Q1100.2 164 1087.8 183.4" fill="#e9eaeb" stroke-width="1.2" stroke="#3a3a3d"/><path d="M1087.8 149Q1096.4 164 1087.8 179" fill="none" stroke-width="0.7" stroke="#6a6a6e" stroke-dasharray="3 1.2"/><path d="M1087.8 154Q1092.2 164 1087.8 174" fill="none" stroke-width="0.5" stroke="#8a8a8e"/><rect x="1092.8" y="162.2" width="2.2" height="4.2" fill="#38383b" stroke-width="0"/><rect x="1021.9" y="96.4" width="9.1" height="9.1" fill="#f7f7f8" stroke-width="0.6"/><path d="M1047.9 105.5L1047.9 99.6L1050 99.6L1050 93L1059.8 93L1059.8 105.5Z" fill="#f7f7f8" stroke-width="0.6"/><path d="M1047.9 99.6L1059.8 99.6" stroke-width="0.5"/><rect x="1051.5" y="94.4" width="6.9" height="3.6" fill="#fff" stroke-width="0.5"/><path d="M1059.8 94L1062.3 96.2L1072 96.2L1072 105.5L1059.8 105.5Z" fill="#f7f7f8" stroke-width="0.6"/><path d="M1062.3 96.2L1062.3 105.5" stroke-width="0.5"/><rect x="1073.7" y="102.6" width="11.1" height="2.9" fill="#f7f7f8" stroke-width="0.6"/><rect x="1073.7" y="103.8" width="2.3" height="1.7" fill="#38383b" stroke-width="0"/><path d="M1031.2 105.5A9.8 9.8 0 1 1 1046 105.5L1042.6 105.5A5.4 5.4 0 1 0 1034.6 105.5Z" fill="#f4f4f5" stroke-width="0.7"/><rect x="1034.9" y="94" width="7.5" height="4.4" fill="#fff" stroke-width="0.8"/><path d="M1034.6 101.2Q1038.6 98.8 1042.6 101.2" fill="none" stroke-width="0.9" stroke="#38383b"/><path d="M1005.5 316.4L1005.5 107.5Q1005.5 105.5 1007.5 105.5L1085.8 105.5Q1087.8 105.5 1087.8 107.5L1087.8 316.4Z" fill="#eff0f1"/><path d="M1005.5 223.9L1087.8 223.9"/><path d="M1005.5 248.6L1087.8 248.6"/><path d="M1005.5 250.3L1087.8 250.3" stroke-width="0.5"/><circle cx="1009.9" cy="115" r="1.5" fill="#2e2e31" stroke-width="0"/><circle cx="1083.5" cy="115" r="1.5" fill="#2e2e31" stroke-width="0"/><circle cx="1010.4" cy="214.2" r="1.5" fill="#2e2e31" stroke-width="0"/><circle cx="1083.2" cy="214.2" r="1.5" fill="#2e2e31" stroke-width="0"/><path d="M1013 258.6L1020 251.3L1075 251.3L1082 258.6L1082 308.8L1075 316.4L1020 316.4L1013 308.8Z" fill="#f3f4f4" stroke-width="0.7"/><path d="M1016.3 257L1016.3 311" stroke-width="2.2" stroke="#e2e3e5"/><path d="M1076.8 257L1076.8 311" stroke-width="2.2" stroke="#e2e3e5"/><path d="M1019.3 258.6L1019.3 317" stroke-width="0.5"/><path d="M1073.7 258.6L1073.7 317" stroke-width="0.5"/><circle cx="1046.5" cy="285.5" r="32.6" fill="#f6f6f7" stroke-width="0.8"/><circle cx="1046.5" cy="285.5" r="26.6" fill="none" stroke-width="0.7"/><circle cx="1046.5" cy="285.5" r="17.7" fill="#f0f0f1" stroke-width="1.6" stroke="#333336"/><circle cx="1046.5" cy="285.5" r="14.2" fill="none" stroke-width="0.9" stroke="#444448"/><circle cx="1046.5" cy="285.5" r="11.8" fill="none" stroke-width="0.4" stroke="#8a8a8e"/><circle cx="1046.5" cy="285.5" r="7.3" fill="#fafafa" stroke-width="0.7"/><circle cx="1046.5" cy="285.5" r="4.6" fill="none" stroke-width="0.6"/><circle cx="1046.5" cy="285.5" r="2.4" fill="none" stroke-width="0.6"/><circle cx="1034.1" cy="273.7" r="2.5" fill="#b9babd" stroke-width="1.1" stroke="#2e2e31"/><path d="M1032.9 274.9l2.4 -2.4" fill="none" stroke-width="0.6"/><circle cx="1034.1" cy="297.3" r="2.5" fill="#b9babd" stroke-width="1.1" stroke="#2e2e31"/><path d="M1032.9 298.5l2.4 -2.4" fill="none" stroke-width="0.6"/><circle cx="1058.9" cy="273.7" r="2.5" fill="#b9babd" stroke-width="1.1" stroke="#2e2e31"/><path d="M1057.7 274.9l2.4 -2.4" fill="none" stroke-width="0.6"/><circle cx="1058.9" cy="297.3" r="2.5" fill="#b9babd" stroke-width="1.1" stroke="#2e2e31"/><path d="M1057.7 298.5l2.4 -2.4" fill="none" stroke-width="0.6"/><rect x="1043.8" y="269.6" width="5.4" height="5.4" fill="#a2a3a6" stroke-width="1" stroke="#2e2e31"/><path d="M1045.6 269.7L1045.6 274.9" stroke-width="0.5"/><path d="M1047.4 269.7L1047.4 274.9" stroke-width="0.5"/><rect x="1043.8" y="296" width="5.4" height="5.4" fill="#a2a3a6" stroke-width="1" stroke="#2e2e31"/><path d="M1045.6 296.1L1045.6 301.3" stroke-width="0.5"/><path d="M1047.4 296.1L1047.4 301.3" stroke-width="0.5"/><path d="M1036.5 255.1l-0.5 3.2M1036.5 308.0l-0.5 3.6" fill="none" stroke-width="1.1" stroke="#2e2e31"/><path d="M1011.9 285.5l2 -1.5l2 1.5l-2 1.5ZM1077.1 285.5l2 -1.5l2 1.5l-2 1.5ZM1046.5 250.7l1.5 2.2l-1.5 2.2l-1.5 -2.2Z" fill="#2e2e31" stroke-width="0"/><path d="M1008 285.5L1128.5 285.5" stroke-width="0.55"/><path d="M1046.5 246L1046.5 322" stroke-width="0.55"/><path d="M962.7 262.1L996.5 262.1L1063.6 293.7" fill="none"/><path d="M1029.6 277.4L1022.8 275.5L1023.8 273.3Z" fill="#2e2e31" stroke="none"/><path d="M1063.4 293.6L1070.2 295.5L1069.2 297.7Z" fill="#2e2e31" stroke="none"/><g transform="translate(962 255.2)"><ellipse cx="3.6" cy="-3.7" rx="3.1" ry="3.5" fill="none" stroke="#37373a" stroke-width="0.95"/><path d="M5.2 -10.6L2.3 2.4" stroke="#37373a" stroke-width="0.95" fill="none"/><text x="9.4" y="0" font-size="14" fill="#434347" stroke="none" textLength="21.2" lengthAdjust="spacingAndGlyphs">66.7</text></g><path d="M1183.3 229.5L1091.7 229.5L1067.6 260.6" fill="none"/><text transform="translate(1096.6 221.2) scale(0.815 1)" font-size="14" text-anchor="start" fill="#434347" stroke="none">4</text><path d="M1104.7 213.8L1109.7 218.8M1104.7 218.8L1109.7 213.8" stroke="#3a3a3e" stroke-width="1.05" fill="none"/><text transform="translate(1112.2 221.2)" font-size="14" text-anchor="start" fill="#434347" stroke="none" textLength="23" lengthAdjust="spacingAndGlyphs">M12</text><text transform="translate(1142.8 221.2)" font-size="14" text-anchor="start" fill="#434347" stroke="none" textLength="13.6" lengthAdjust="spacingAndGlyphs">20</text><text transform="translate(1159 221.2)" font-size="14" text-anchor="start" fill="#434347" stroke="none" textLength="24.6" lengthAdjust="spacingAndGlyphs">EQS</text><path d="M1136.1 211.9L1142.7 211.9M1139.4 211.9L1139.4 220.6M1136.4 215.2L1139.4 220.9L1142.4 215.2" stroke-width="0.9" stroke="#3c3c40" fill="none"/><path d="M1005.5 57L1005.5 105.5"/><path d="M1087.8 57L1087.8 105.5"/><path d="M1005.5 67.3L1087.8 67.3"/><path d="M1005.5 67.3L1015.1 65.7L1015.1 68.9Z" fill="#2e2e31" stroke="none"/><path d="M1087.8 67.3L1078.2 68.9L1078.2 65.7Z" fill="#2e2e31" stroke="none"/><text transform="translate(1046.9 61.9) scale(0.815 1)" font-size="14" text-anchor="middle" fill="#434347" stroke="none">180</text><path d="M1087.8 249.6L1155 249.6"/><path d="M1087.8 316.4L1158.8 316.4"/><path d="M1144.2 249.6L1144.2 316.4"/><path d="M1144.2 249.6L1145.8 259.2L1142.6 259.2Z" fill="#2e2e31" stroke="none"/><path d="M1144.2 316.4L1142.6 306.8L1145.8 306.8Z" fill="#2e2e31" stroke="none"/><text transform="translate(1139.2 284.4) rotate(-90) scale(0.815 1)" font-size="14" text-anchor="middle" fill="#434347" stroke="none">145</text><path d="M1117.8 285.5L1117.8 316.4"/><path d="M1117.8 285.5L1119.4 292.5L1116.2 292.5Z" fill="#2e2e31" stroke="none"/><path d="M1117.8 316.4L1116.2 309.4L1119.4 309.4Z" fill="#2e2e31" stroke="none"/><text transform="translate(1113.6 301) rotate(-90)" font-size="11.5" text-anchor="middle" fill="#434347" stroke="none" textLength="27.6" lengthAdjust="spacingAndGlyphs">70±0.01</text><path d="M1011.7 316.4L1011.7 393"/><path d="M1081.8 316.4L1081.8 393"/><path d="M1011.7 383.4L1081.8 383.4"/><path d="M1011.7 383.4L1021.3 381.8L1021.3 385Z" fill="#2e2e31" stroke="none"/><path d="M1081.8 383.4L1072.2 385L1072.2 381.8Z" fill="#2e2e31" stroke="none"/><text transform="translate(1047 378.1) scale(0.815 1)" font-size="14" text-anchor="middle" fill="#434347" stroke="none">150</text><path d="M1042.3 315.5L1042.3 363.4"/><path d="M1050.8 315.5L1050.8 363.4"/><path d="M1021.5 353.1L1078.6 353.1"/><path d="M1042.3 353.1L1034.3 354.7L1034.3 351.5Z" fill="#2e2e31" stroke="none"/><path d="M1050.8 353.1L1058.8 351.5L1058.8 354.7Z" fill="#2e2e31" stroke="none"/><text transform="translate(1052 348.6) scale(0.815 1)" font-size="14.6" text-anchor="start" fill="#434347" stroke="none">20</text><text transform="translate(1065 338.5)" font-size="8.8" text-anchor="start" fill="#434347" stroke="none" textLength="16.2" lengthAdjust="spacingAndGlyphs">+0.02</text><text transform="translate(1067.6 348.6) scale(0.74 1)" font-size="8.8" text-anchor="start" fill="#434347" stroke="none">0</text><path d="M1011.7 340.6L1036.7 340.6L1036.7 316.6" fill="none"/><path d="M1036.7 316.6L1038 325.6L1035.4 325.6Z" fill="#2e2e31" stroke="none"/><path d="M1036.7 305L1036.7 313.5" stroke-width="0.6"/><path d="M1036.7 314.6L1035.7 310.6L1037.7 310.6Z" fill="#2e2e31" stroke="none"/><path d="M1036.7 314.9L1042.3 314.9" stroke-width="0.6"/><text transform="translate(1019.8 335.4) scale(0.815 1)" font-size="14" text-anchor="middle" fill="#434347" stroke="none">7</text><path d="M504.6 487.2L514.8 482.20000000000005L648.9 482.20000000000005L648.9 548.1L514.8 548.1L504.6 542.3Z" fill="#f0f1f2"/><rect x="541.6" y="489" width="85.4" height="51.6" fill="#f1f2f2" stroke-width="0"/><rect x="498.6" y="495.4" width="6.2" height="38.8" fill="#f7f7f8" stroke-width="0.7"/><rect x="494" y="510.7" width="8" height="8.1" fill="#f7f7f7" stroke-width="0.8"/><path d="M515.5 486.5L648.9 486.5" stroke-width="0.6"/><path d="M515.5 488.9L648.9 488.9" stroke-width="0.6"/><path d="M515.5 540.7L648.9 540.7" stroke-width="0.6"/><path d="M515.5 543.1L648.9 543.1" stroke-width="0.6"/><path d="M514.8 481.6L514.8 548.1"/><path d="M519.9 481.6L519.9 548.1" stroke-width="0.5"/><path d="M498.6 504.8L527.8 508.8" stroke-width="0.5"/><path d="M498.6 525.2L527.8 520.8" stroke-width="0.5"/><path d="M498.6 499.4L510 500.6" stroke-width="0.4"/><path d="M498.6 530.4L510 529.2" stroke-width="0.4"/><path d="M531.2 480.3L550.8000000000001 480.3L550.8000000000001 491.5Q550.8000000000001 494.9 547.4000000000001 494.9L534.6 494.9Q531.2 494.9 531.2 491.5Z" fill="#f3f4f4"/><path d="M531.2 549.3L550.8000000000001 549.3L550.8000000000001 538.2Q550.8000000000001 534.8 547.4000000000001 534.8L534.6 534.8Q531.2 534.8 531.2 538.2Z" fill="#f3f4f4"/><circle cx="541" cy="487.1" r="3.1" fill="#fff" stroke-width="0.7"/><path d="M536.4 487.1L545.6 487.1" stroke-width="0.45"/><path d="M541 482.5L541 491.7" stroke-width="0.45"/><circle cx="541" cy="542.5" r="3.1" fill="#fff" stroke-width="0.7"/><path d="M536.4 542.5L545.6 542.5" stroke-width="0.45"/><path d="M541 537.9L541 547.1" stroke-width="0.45"/><path d="M539.5 494.9L539.5 534.8" stroke-width="0.5"/><path d="M541.9 494.9L541.9 534.8" stroke-width="0.5"/><path d="M618.2 480.3L637.8000000000001 480.3L637.8000000000001 491.5Q637.8000000000001 494.9 634.4000000000001 494.9L621.6 494.9Q618.2 494.9 618.2 491.5Z" fill="#f3f4f4"/><path d="M618.2 549.3L637.8000000000001 549.3L637.8000000000001 538.2Q637.8000000000001 534.8 634.4000000000001 534.8L621.6 534.8Q618.2 534.8 618.2 538.2Z" fill="#f3f4f4"/><circle cx="628" cy="487.1" r="3.1" fill="#fff" stroke-width="0.7"/><path d="M623.4 487.1L632.6 487.1" stroke-width="0.45"/><path d="M628 482.5L628 491.7" stroke-width="0.45"/><circle cx="628" cy="542.5" r="3.1" fill="#fff" stroke-width="0.7"/><path d="M623.4 542.5L632.6 542.5" stroke-width="0.45"/><path d="M628 537.9L628 547.1" stroke-width="0.45"/><path d="M626.5 494.9L626.5 534.8" stroke-width="0.5"/><path d="M628.9 494.9L628.9 534.8" stroke-width="0.5"/><path d="M524.4 498.1L527 495.5L529.6 498.1L527 500.70000000000005Z" fill="#8c8d90" stroke-width="0.6"/><path d="M523 498.1L531 498.1" stroke-width="0.45"/><path d="M527 494.1L527 502.1" stroke-width="0.45"/><path d="M524.4 530.7L527 528.1L529.6 530.7L527 533.3000000000001Z" fill="#8c8d90" stroke-width="0.6"/><path d="M523 530.7L531 530.7" stroke-width="0.45"/><path d="M527 526.7L527 534.7" stroke-width="0.45"/><path d="M638.9 498.1L641.5 495.5L644.1 498.1L641.5 500.70000000000005Z" fill="#8c8d90" stroke-width="0.6"/><path d="M637.5 498.1L645.5 498.1" stroke-width="0.45"/><path d="M641.5 494.1L641.5 502.1" stroke-width="0.45"/><path d="M638.9 530.7L641.5 528.1L644.1 530.7L641.5 533.3000000000001Z" fill="#8c8d90" stroke-width="0.6"/><path d="M637.5 530.7L645.5 530.7" stroke-width="0.45"/><path d="M641.5 526.7L641.5 534.7" stroke-width="0.45"/><path d="M504.6 487.2L514.8 482.20000000000005L648.9 482.20000000000005M648.9 548.1L514.8 548.1L504.6 542.3L504.6 487.2" fill="none"/><rect x="648.9" y="472.8" width="46.4" height="83.8" fill="#f0f1f2"/><path d="M655.2 472.8L655.2 556.6" stroke-width="1.3" stroke="#3a3a3d"/><path d="M653.4 472.8L653.4 556.6" stroke-width="0.5"/><path d="M690.8 472.8L690.8 556.6" stroke-width="0.6"/><path d="M655.2 478q-1.6 1.8 0 4M655.2 547q-1.6 2 0 4" fill="none" stroke-width="1" stroke="#2e2e31"/><path d="M665 497.6q2.6 0 2.6 2.4l0 1.2q3.6 1.2 3.6 4.6q0 3.4 -3.6 4.6l0 3.2q0 1.6 -2.6 1.6q-2.6 0 -2.6 -1.6l0 -3.2q-3.6 -1.2 -3.6 -4.6q0 -3.4 3.6 -4.6l0 -1.2q0 -2.4 2.6 -2.4Z" fill="#f7f7f7" stroke-width="0.8"/><path d="M661.6 503.4q3.4 -2.6 6.8 0" fill="none" stroke-width="0.6"/><circle cx="665.5" cy="522.7" r="1.9" fill="#f7f7f7" stroke-width="0.7"/><rect x="674.4" y="501.7" width="22.3" height="25.5" fill="#f4f5f5" stroke-width="0.7"/><path d="M685.2 501.7L685.2 527.2" stroke-width="0.5"/><circle cx="679.6" cy="506.7" r="3.3" fill="#e2e3e4" stroke-width="0.9" stroke="#3a3a3d"/><circle cx="679.6" cy="506.7" r="1.8" fill="#a5a6a9" stroke-width="0.5"/><circle cx="679.6" cy="522.7" r="3.3" fill="#e2e3e4" stroke-width="0.9" stroke="#3a3a3d"/><circle cx="679.6" cy="522.7" r="1.8" fill="#a5a6a9" stroke-width="0.5"/><circle cx="692.6" cy="514.4" r="2" fill="#e8e9ea" stroke-width="0.6"/><circle cx="692.6" cy="514.4" r="0.9" fill="none" stroke-width="0.4"/><rect x="695.3" y="475.1" width="5.3" height="4.4" fill="#f7f7f8" stroke-width="0.6"/><path d="M698.6 475.1L698.6 479.5" stroke-width="0.4"/><rect x="695.3" y="549.1" width="5.3" height="4.4" fill="#f7f7f8" stroke-width="0.6"/><path d="M698.6 549.1L698.6 553.5" stroke-width="0.4"/><rect x="695.3" y="483" width="8.9" height="63" fill="#f6f6f7" stroke-width="0.5"/><rect x="704.2" y="468.9" width="5" height="91.5" fill="#f0f1f2"/><rect x="709.2" y="468.9" width="4.8" height="91.5" fill="#f0f1f2"/><rect x="702" y="468.6" width="2.2" height="4.4" fill="#f7f7f8" stroke-width="0.6"/><rect x="702" y="556.2" width="2.2" height="4.4" fill="#f7f7f8" stroke-width="0.6"/><rect x="714" y="469.3" width="87.9" height="90.9" fill="#f4f4f5"/><path d="M718 470.6L801.9 470.6" fill="none" stroke-width="2.4" stroke="#3c3c40"/><path d="M718 558.7L801.9 558.7" fill="none" stroke-width="2.8" stroke="#55555a"/><path d="M714.6 482Q715 473 722 469.7L718 469.7Q714.4 472 714.6 482Z" fill="#38383b" stroke-width="0.6"/><path d="M714.6 547.5Q715 556.5 722 559.8000000000001L718 559.8000000000001Q714.4 557.5 714.6 547.5Z" fill="#38383b" stroke-width="0.6"/><path d="M716 475.2L801.9 475.2" stroke-width="0.55"/><path d="M716 483.6L801.9 483.6" stroke-width="0.55"/><path d="M716 489.4L801.9 489.4" stroke-width="0.55"/><path d="M716 540L801.9 540" stroke-width="0.55"/><path d="M716 545.8L801.9 545.8" stroke-width="0.55"/><path d="M716 554.4L801.9 554.4" stroke-width="0.55"/><path d="M716 494L725.6 494" stroke-width="1.2" stroke="#55555a"/><path d="M774.6 494L801.9 494" stroke-width="0.7" stroke="#505054"/><path d="M716 497.6L725.6 497.6" stroke-width="1.2" stroke="#55555a"/><path d="M774.6 497.6L801.9 497.6" stroke-width="0.7" stroke="#505054"/><path d="M716 501.2L725.6 501.2" stroke-width="1.2" stroke="#55555a"/><path d="M774.6 501.2L801.9 501.2" stroke-width="0.7" stroke="#505054"/><path d="M716 504.8L725.6 504.8" stroke-width="1.2" stroke="#55555a"/><path d="M774.6 504.8L801.9 504.8" stroke-width="0.7" stroke="#505054"/><path d="M716 508.4L725.6 508.4" stroke-width="1.2" stroke="#55555a"/><path d="M774.6 508.4L801.9 508.4" stroke-width="0.7" stroke="#505054"/><path d="M716 521.4L725.6 521.4" stroke-width="1.2" stroke="#55555a"/><path d="M774.6 521.4L801.9 521.4" stroke-width="0.7" stroke="#505054"/><path d="M716 525L725.6 525" stroke-width="1.2" stroke="#55555a"/><path d="M774.6 525L801.9 525" stroke-width="0.7" stroke="#505054"/><path d="M716 528.6L725.6 528.6" stroke-width="1.2" stroke="#55555a"/><path d="M774.6 528.6L801.9 528.6" stroke-width="0.7" stroke="#505054"/><path d="M716 532.2L725.6 532.2" stroke-width="1.2" stroke="#55555a"/><path d="M774.6 532.2L801.9 532.2" stroke-width="0.7" stroke="#505054"/><path d="M716 535.8L725.6 535.8" stroke-width="1.2" stroke="#55555a"/><path d="M774.6 535.8L801.9 535.8" stroke-width="0.7" stroke="#505054"/><path d="M774.6 512.4L801.9 512.4" stroke-width="0.55"/><path d="M774.6 517.4L801.9 517.4" stroke-width="0.55"/><rect x="731.6" y="472" width="10.1" height="85.6" fill="#f6f6f7" stroke-width="0.55"/><rect x="771.8" y="472" width="9.8" height="85.6" fill="#f6f6f7" stroke-width="0.55"/><path d="M703 513L712 511.8L722 511.8L722 517.8L712 517.8L703 516.6Z" fill="#f7f7f8" stroke-width="0.6"/><path d="M712 511.8L712 517.8" stroke-width="0.5"/><rect x="725.6" y="490.7" width="49" height="48.1" fill="#f1f2f2" rx="6.5" stroke-width="0.8"/><rect x="728" y="493" width="44.2" height="43.4" fill="none" rx="5" stroke-width="0.5"/><rect x="732.4" y="496.9" width="35.6" height="35.7" fill="#f6f6f7" rx="2" stroke-width="0.7"/><circle cx="731.5" cy="495.6" r="2.6" fill="#cfd0d2" stroke-width="0.9" stroke="#3a3a3d"/><circle cx="731.5" cy="495.6" r="1.2" fill="#77787b" stroke-width="0"/><circle cx="731.5" cy="532.9" r="2.6" fill="#cfd0d2" stroke-width="0.9" stroke="#3a3a3d"/><circle cx="731.5" cy="532.9" r="1.2" fill="#77787b" stroke-width="0"/><circle cx="768.7" cy="495.6" r="2.6" fill="#cfd0d2" stroke-width="0.9" stroke="#3a3a3d"/><circle cx="768.7" cy="495.6" r="1.2" fill="#77787b" stroke-width="0"/><circle cx="768.7" cy="532.9" r="2.6" fill="#cfd0d2" stroke-width="0.9" stroke="#3a3a3d"/><circle cx="768.7" cy="532.9" r="1.2" fill="#77787b" stroke-width="0"/><rect x="746.4" y="541.5" width="6.4" height="12.5" fill="#f7f7f8" stroke-width="0.7"/><path d="M745 543.6L754.2 543.6" stroke-width="0.9"/><path d="M749.6 543.6L749.6 554" stroke-width="0.5"/><path d="M801.9 467.8L829.6 467.8L847.7 478.6L847.7 550.6L829.6 561.6L801.9 561.6Z" fill="#f1f1f2"/><path d="M829 467.8L829 561.6" stroke-width="0.6"/><path d="M804.5 467.8L804.5 561.6" stroke-width="0.4" stroke="#b5b5b8"/><path d="M811 467.8Q813 466 815 467.8M811 561.6Q813 563.4 815 561.6" fill="#f7f7f8" stroke-width="0.6"/><circle cx="813.3" cy="514.5" r="2.4" fill="#3a3a3d" stroke-width="0"/><rect x="847.7" y="488.9" width="21.3" height="51.7" fill="#f2f3f3" stroke-width="0.6"/><rect x="869" y="488.9" width="9.8" height="51.7" fill="#f0f1f2" stroke-width="0.7"/><path d="M847.7 492L869 492" stroke-width="0.5"/><path d="M847.7 497.2L869 497.2" stroke-width="0.5"/><path d="M847.7 501L869 501" stroke-width="0.5"/><path d="M847.7 506.4L869 506.4" stroke-width="0.5"/><path d="M847.7 532.4L869 532.4" stroke-width="0.5"/><path d="M847.7 537.4L869 537.4" stroke-width="0.5"/><rect x="847.7" y="512.6" width="14.3" height="4" fill="#d6d7d9" stroke-width="0.5"/><rect x="862" y="497.6" width="4.6" height="8" fill="#aeb0b3" stroke-width="0.5"/><path d="M866.6 497.6L872.6 497.6Q877.2 499 877.2 501.6Q877.2 504.2 872.6 505.6L866.6 505.6Z" fill="#fff" stroke-width="1.2" stroke="#2e2e31"/><rect x="862.4" y="511.4" width="4.6" height="6.6" fill="#fff" stroke-width="0.9" stroke="#2e2e31"/><path d="M864.7 511.4L864.7 518" stroke-width="0.6"/><circle cx="872.4" cy="514.7" r="3" fill="#fff" stroke-width="1.3" stroke="#2e2e31"/><path d="M489.6 514.8L600 514.8" stroke-width="0.5" stroke-dasharray="30 2 3 2"/><path d="M876 514.7L887.6 514.7" stroke-width="0.5"/><path d="M519.9 443.7L519.9 481.6"/><path d="M527.2 443.7L527.2 494"/><path d="M641.5 443.7L641.5 494"/><path d="M500.3 453.9L641.5 453.9"/><path d="M519.9 453.9L510.3 455.5L510.3 452.3Z" fill="#2e2e31" stroke="none"/><path d="M527.2 453.9L536.8 452.3L536.8 455.5Z" fill="#2e2e31" stroke="none"/><path d="M641.5 453.9L631.9 455.5L631.9 452.3Z" fill="#2e2e31" stroke="none"/><text transform="translate(493.2 448.3) scale(0.815 1)" font-size="14" text-anchor="middle" fill="#434347" stroke="none">15</text><text transform="translate(584.2 448.3) scale(0.815 1)" font-size="14" text-anchor="middle" fill="#434347" stroke="none">250</text><path d="M722 453.6L657.4 453.6L643.4 494.6" fill="none"/><path d="M642.7 496.6L643.9 489.6L646 490.3Z" fill="#2e2e31" stroke="none"/><text transform="translate(662.2 448.3) scale(0.815 1)" font-size="14" text-anchor="start" fill="#434347" stroke="none">4</text><path d="M670.7 440.9L675.7 445.9M670.7 445.9L675.7 440.9" stroke="#3a3a3e" stroke-width="1.05" fill="none"/><text transform="translate(677.6 448.3)" font-size="14" text-anchor="start" fill="#434347" stroke="none" textLength="23" lengthAdjust="spacingAndGlyphs">M10</text><text transform="translate(708.4 448.3)" font-size="14" text-anchor="start" fill="#434347" stroke="none" textLength="12.4" lengthAdjust="spacingAndGlyphs">17</text><path d="M701.3 439.0L707.9 439.0M704.6 439.0L704.6 447.7M701.6 442.3L704.6 448.0L707.6 442.3" stroke-width="0.9" stroke="#3c3c40" fill="none"/><path d="M467.3 487.2L545 487.2"/><path d="M467.3 542.3L545 542.3"/><path d="M476.2 487.4L476.2 542.2"/><path d="M476.2 487.4L477.8 497L474.6 497Z" fill="#2e2e31" stroke="none"/><path d="M476.2 542.2L474.6 532.6L477.8 532.6Z" fill="#2e2e31" stroke="none"/><text transform="translate(471.4 514.8) rotate(-90) scale(0.815 1)" font-size="14" text-anchor="middle" fill="#434347" stroke="none">120</text><path d="M601 498.1L645 498.1"/><path d="M601 530.7L645 530.7"/><path d="M611.7 498.1L611.7 530.7"/><path d="M611.7 498.1L613.3 505.1L610.1 505.1Z" fill="#2e2e31" stroke="none"/><path d="M611.7 530.7L610.1 523.7L613.3 523.7Z" fill="#2e2e31" stroke="none"/><text transform="translate(606.4 514.2) rotate(-90) scale(0.815 1)" font-size="11.5" text-anchor="middle" fill="#434347" stroke="none">70</text><path d="M519.9 548.1L519.9 597.7"/><path d="M541 549.3L541 597.7"/><path d="M628.2 549.3L628.2 597.7"/><path d="M500.3 587.9L628.2 587.9"/><path d="M519.9 587.9L510.3 589.5L510.3 586.3Z" fill="#2e2e31" stroke="none"/><path d="M541 587.9L550.6 586.3L550.6 589.5Z" fill="#2e2e31" stroke="none"/><path d="M628.2 587.9L618.6 589.5L618.6 586.3Z" fill="#2e2e31" stroke="none"/><text transform="translate(530.6 582.5) scale(0.815 1)" font-size="14" text-anchor="middle" fill="#434347" stroke="none">45</text><text transform="translate(584.5 582.5) scale(0.815 1)" font-size="14" text-anchor="middle" fill="#434347" stroke="none">190</text><path d="M690 581.7L643.8 581.7L618.9 520.5" fill="none"/><path d="M629.8 547.4L633.7 553.9L631.5 554.8Z" fill="#2e2e31" stroke="none"/><path d="M634 518.7L637.6 509.8" stroke-width="0.6"/><text transform="translate(648 573.6) scale(0.815 1)" font-size="14" text-anchor="start" fill="#434347" stroke="none">4</text><path d="M657.1 566.2L662.1 571.2M657.1 571.2L662.1 566.2" stroke="#3a3a3e" stroke-width="1.05" fill="none"/><g transform="translate(666.4 573.6)"><ellipse cx="3.6" cy="-3.7" rx="3.1" ry="3.5" fill="none" stroke="#37373a" stroke-width="0.95"/><path d="M5.2 -10.6L2.3 2.4" stroke="#37373a" stroke-width="0.95" fill="none"/><text x="9.8" y="0" font-size="14" fill="#434347" stroke="none" textLength="12" lengthAdjust="spacingAndGlyphs">15</text></g></g>
<g transform="translate(1144.8 481.6)" fill="#55b7c9"><path fill-rule="evenodd" d="M0 -16.6A16.6 16.6 0 1 1 0 16.6A16.6 16.6 0 1 1 0 -16.6ZM0 -13.7A13.7 13.7 0 1 0 0 13.7A13.7 13.7 0 1 0 0 -13.7Z"/><path transform="rotate(22.5)" d="M-4.1 -15.6L-3.3 -20.3Q0 -20.8 3.3 -20.3L4.1 -15.6Z"/><path transform="rotate(67.5)" d="M-4.1 -15.6L-3.3 -20.3Q0 -20.8 3.3 -20.3L4.1 -15.6Z"/><path transform="rotate(112.5)" d="M-4.1 -15.6L-3.3 -20.3Q0 -20.8 3.3 -20.3L4.1 -15.6Z"/><path transform="rotate(157.5)" d="M-4.1 -15.6L-3.3 -20.3Q0 -20.8 3.3 -20.3L4.1 -15.6Z"/><path transform="rotate(202.5)" d="M-4.1 -15.6L-3.3 -20.3Q0 -20.8 3.3 -20.3L4.1 -15.6Z"/><path transform="rotate(247.5)" d="M-4.1 -15.6L-3.3 -20.3Q0 -20.8 3.3 -20.3L4.1 -15.6Z"/><path transform="rotate(292.5)" d="M-4.1 -15.6L-3.3 -20.3Q0 -20.8 3.3 -20.3L4.1 -15.6Z"/><path transform="rotate(337.5)" d="M-4.1 -15.6L-3.3 -20.3Q0 -20.8 3.3 -20.3L4.1 -15.6Z"/><path d="M0 -9.3C1.5 -6.6 6.7 -1.6 6.7 2.6A6.7 6.7 0 0 1 -6.7 2.6C-6.7 -1.6 -1.5 -6.6 0 -9.3Z"/></g>
<text class="cjk" x="83.2" y="165.4" font-size="15.4" fill="#444448" textLength="132.4" lengthAdjust="spacingAndGlyphs">自动打刀/自動加工</text>
<text class="cjk" x="1038.4" y="527.8" font-size="15" fill="#5a5a5e" textLength="126" lengthAdjust="spacingAndGlyphs">润滑方式:油脂润滑</text>
<text class="cjk" x="1038.4" y="549.4" font-size="15" fill="#5a5a5e" textLength="126" lengthAdjust="spacingAndGlyphs">潤滑方法:油脂潤滑</text>
</svg>
</body></html>
